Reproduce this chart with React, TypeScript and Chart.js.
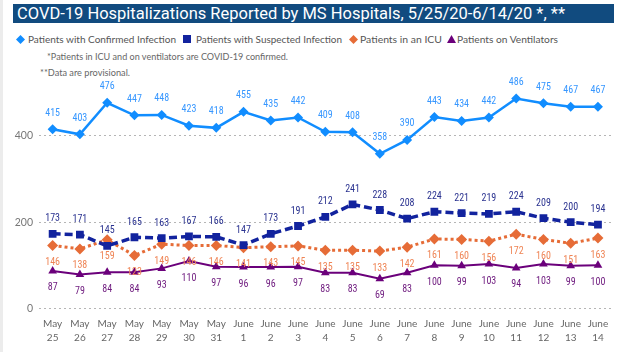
import React, { useEffect, useRef } from "react";
import { Chart, registerables } from "chart.js";

Chart.register(...registerables);

const dates: string[][] = [
  ["May", "25"], ["May", "26"], ["May", "27"], ["May", "28"], ["May", "29"], ["May", "30"], ["May", "31"],
  ["June", "1"], ["June", "2"], ["June", "3"], ["June", "4"], ["June", "5"], ["June", "6"], ["June", "7"],
  ["June", "8"], ["June", "9"], ["June", "10"], ["June", "11"], ["June", "12"], ["June", "13"], ["June", "14"],
];
const confirmed = [415, 403, 476, 447, 448, 423, 418, 455, 435, 442, 409, 408, 358, 390, 443, 434, 442, 486, 475, 467, 467];
const suspected = [173, 171, 145, 165, 163, 167, 166, 147, 173, 191, 212, 241, 228, 208, 224, 221, 219, 224, 209, 200, 194];
const icu = [146, 138, 159, 123, 149, 146, 146, 141, 143, 145, 135, 135, 133, 142, 161, 160, 156, 172, 160, 151, 163];
const ventilators = [87, 79, 84, 84, 93, 110, 97, 96, 96, 97, 83, 83, 69, 83, 100, 99, 103, 94, 103, 99, 100];
const yTicks = [0, 200, 400];

const titleText = "COVD-19 Hospitalizations Reported by MS Hospitals, 5/25/20-6/14/20 *, **";
const seriesNames = [
  "Patients with Confirmed Infection",
  "Patients with Suspected Infection",
  "Patients in an ICU",
  "Patients on Ventilators",
];
const note1 = "*Patients in ICU and on ventilators are COVID-19 confirmed.";
const note2 = "**Data are provisional.";

const C_CONF = "#118DFF";
const C_SUSP = "#12239E";
const C_ICU = "#E66C37";
const C_VENT = "#6B007B";

const labelFont = "10px 'Liberation Sans Narrow', 'Roboto Condensed', 'DejaVu Sans Condensed', Roboto, sans-serif";

const pointLabelPlugin = {
  id: "pointLabels",
  afterDatasetsDraw(chart: any) {
    const ctx = chart.ctx;
    chart.data.datasets.forEach((ds: any, i: number) => {
      const meta = chart.getDatasetMeta(i);
      ctx.save();
      ctx.font = labelFont;
      ctx.fillStyle = ds.labelColor;
      ctx.textAlign = "center";
      ctx.textBaseline = "middle";
      meta.data.forEach((pt: any, j: number) => {
        ctx.fillText(String(ds.data[j]), pt.x, pt.y + ds.labelOffset);
      });
      ctx.restore();
    });
  },
};

function Marker({ kind, color }: { kind: string; color: string }) {
  if (kind === "diamond")
    return (
      <svg width="9" height="9" viewBox="0 0 9 9" style={{ display: "block" }}>
        <polygon points="4.5,0 9,4.5 4.5,9 0,4.5" fill={color} />
      </svg>
    );
  if (kind === "square")
    return (
      <svg width="8" height="8" viewBox="0 0 8 8" style={{ display: "block" }}>
        <rect x="0" y="0" width="8" height="8" fill={color} />
      </svg>
    );
  return (
    <svg width="9" height="8" viewBox="0 0 9 8" style={{ display: "block" }}>
      <polygon points="4.5,0 9,8 0,8" fill={color} />
    </svg>
  );
}

export default function App() {
  const canvasRef = useRef<HTMLCanvasElement | null>(null);
  const rootRef = useRef<HTMLDivElement | null>(null);

  useEffect(() => {
    document.body.style.margin = "0";
    if (rootRef.current) {
      rootRef.current.querySelectorAll<HTMLElement>("[data-fit]").forEach((el) => {
        const target = parseFloat(el.dataset.fit || "0");
        el.style.transform = "none";
        const w = el.getBoundingClientRect().width;
        if (w > 0 && target > 0) el.style.transform = `scaleX(${target / w})`;
      });
    }
    const canvas = canvasRef.current;
    if (!canvas) return;
    const chart = new Chart(canvas, {
      type: "line",
      data: {
        labels: dates,
        datasets: [
          {
            label: seriesNames[0],
            data: confirmed,
            borderColor: C_CONF,
            backgroundColor: C_CONF,
            borderWidth: 2.5,
            pointStyle: "rectRot",
            pointRadius: 5,
            pointBorderWidth: 0,
            labelColor: "#3797ff",
            labelOffset: -16,
          } as any,
          {
            label: seriesNames[1],
            data: suspected,
            borderColor: C_SUSP,
            backgroundColor: C_SUSP,
            borderWidth: 3.5,
            borderDash: [8, 4],
            pointStyle: "rect",
            pointRadius: 5.5,
            pointBorderWidth: 0,
            labelColor: "#2b3390",
            labelOffset: -15,
          } as any,
          {
            label: seriesNames[2],
            data: icu,
            borderColor: C_ICU,
            backgroundColor: C_ICU,
            borderWidth: 3,
            borderDash: [3, 3],
            pointStyle: "rectRot",
            pointRadius: 5.5,
            pointBorderWidth: 0,
            labelColor: "#ef8556",
            labelOffset: 17,
          } as any,
          {
            label: seriesNames[3],
            data: ventilators,
            borderColor: C_VENT,
            backgroundColor: C_VENT,
            borderWidth: 2,
            pointStyle: "triangle",
            pointRadius: 5,
            pointBorderWidth: 0,
            labelColor: "#6e1a7e",
            labelOffset: 17,
          } as any,
        ],
      },
      options: {
        animation: false,
        responsive: false,
        devicePixelRatio: 1,
        layout: { padding: { top: 92.4, right: 10.4, bottom: 0, left: 0 } },
        plugins: {
          legend: { display: false },
          title: { display: false },
          tooltip: { enabled: false },
        },
        elements: { line: { tension: 0 } },
        scales: {
          x: {
            offset: true,
            grid: { display: false, drawTicks: false },
            border: { display: false },
            ticks: {
              autoSkip: false,
              maxRotation: 0,
              minRotation: 0,
              padding: 8,
              color: "#666",
              font: { family: "Lato, 'Open Sans', sans-serif", size: 10, lineHeight: 1.4 },
            },
            afterFit: (scale: any) => {
              scale.height = 43.4;
            },
          },
          y: {
            min: 0,
            max: 500,
            grid: {
              drawTicks: false,
              color: "#b5b5b5",
              lineWidth: 1,
            },
            border: { display: false, dash: [2, 3] },
            ticks: {
              padding: 6,
              color: "#777",
              font: { family: "Lato, 'Open Sans', sans-serif", size: 10.5 },
            },
            afterBuildTicks: (axis: any) => {
              axis.ticks = yTicks.map((v) => ({ value: v }));
            },
            afterFit: (scale: any) => {
              scale.width = 39;
            },
          },
        },
      } as any,
      plugins: [pointLabelPlugin],
    });
    return () => chart.destroy();
  }, []);

  const textBase: React.CSSProperties = {
    position: "absolute",
    whiteSpace: "nowrap",
    transformOrigin: "left center",
    display: "inline-block",
  };
  const legendText: React.CSSProperties = {
    ...textBase,
    top: 32,
    fontFamily: "Lato, 'Open Sans', sans-serif",
    fontSize: 10,
    lineHeight: "14px",
    color: "#555",
  };
  const markerBox = (x: number): React.CSSProperties => ({
    position: "absolute",
    left: x,
    top: 35,
  });

  return (
    <div
      ref={rootRef}
      style={{
        position: "relative",
        width: 622,
        height: 352,
        background: "#fff",
        overflow: "hidden",
      }}
    >
      <div style={{ position: "absolute", left: 0, top: 0, width: 3, height: 352, background: "#ececec" }} />
      <div style={{ position: "absolute", left: 13, top: 4, width: 601, height: 19, background: "#114b7f" }} />
      <span
        data-fit="548"
        style={{
          ...textBase,
          left: 17,
          top: 4,
          height: 19,
          lineHeight: "19px",
          color: "#fff",
          fontFamily: "Roboto, 'DejaVu Sans', sans-serif",
          fontSize: 16.5,
        }}
      >
        {titleText}
      </span>

      <div style={markerBox(15.5)}><Marker kind="diamond" color={C_CONF} /></div>
      <span data-fit="148" style={{ ...legendText, left: 28 }}>{seriesNames[0]}</span>
      <div style={markerBox(183)}><Marker kind="square" color={C_SUSP} /></div>
      <span data-fit="146" style={{ ...legendText, left: 196 }}>{seriesNames[1]}</span>
      <div style={markerBox(348.5)}><Marker kind="diamond" color={C_ICU} /></div>
      <span data-fit="82" style={{ ...legendText, left: 360 }}>{seriesNames[2]}</span>
      <div style={markerBox(446.5)}><Marker kind="triangle" color={C_VENT} /></div>
      <span data-fit="101" style={{ ...legendText, left: 457 }}>{seriesNames[3]}</span>

      <span
        data-fit="241"
        style={{
          ...textBase,
          left: 47,
          top: 51,
          lineHeight: "12px",
          fontSize: 8.5,
          fontFamily: "Lato, 'Open Sans', sans-serif",
          color: "#666",
        }}
      >
        {note1}
      </span>
      <span
        data-fit="90"
        style={{
          ...textBase,
          left: 40,
          top: 67,
          lineHeight: "12px",
          fontSize: 8.5,
          fontFamily: "Lato, 'Open Sans', sans-serif",
          color: "#666",
        }}
      >
        {note2}
      </span>

      <canvas
        ref={canvasRef}
        width={622}
        height={352}
        style={{ position: "absolute", left: 0, top: 0, width: 622, height: 352 }}
      />
    </div>
  );
}
